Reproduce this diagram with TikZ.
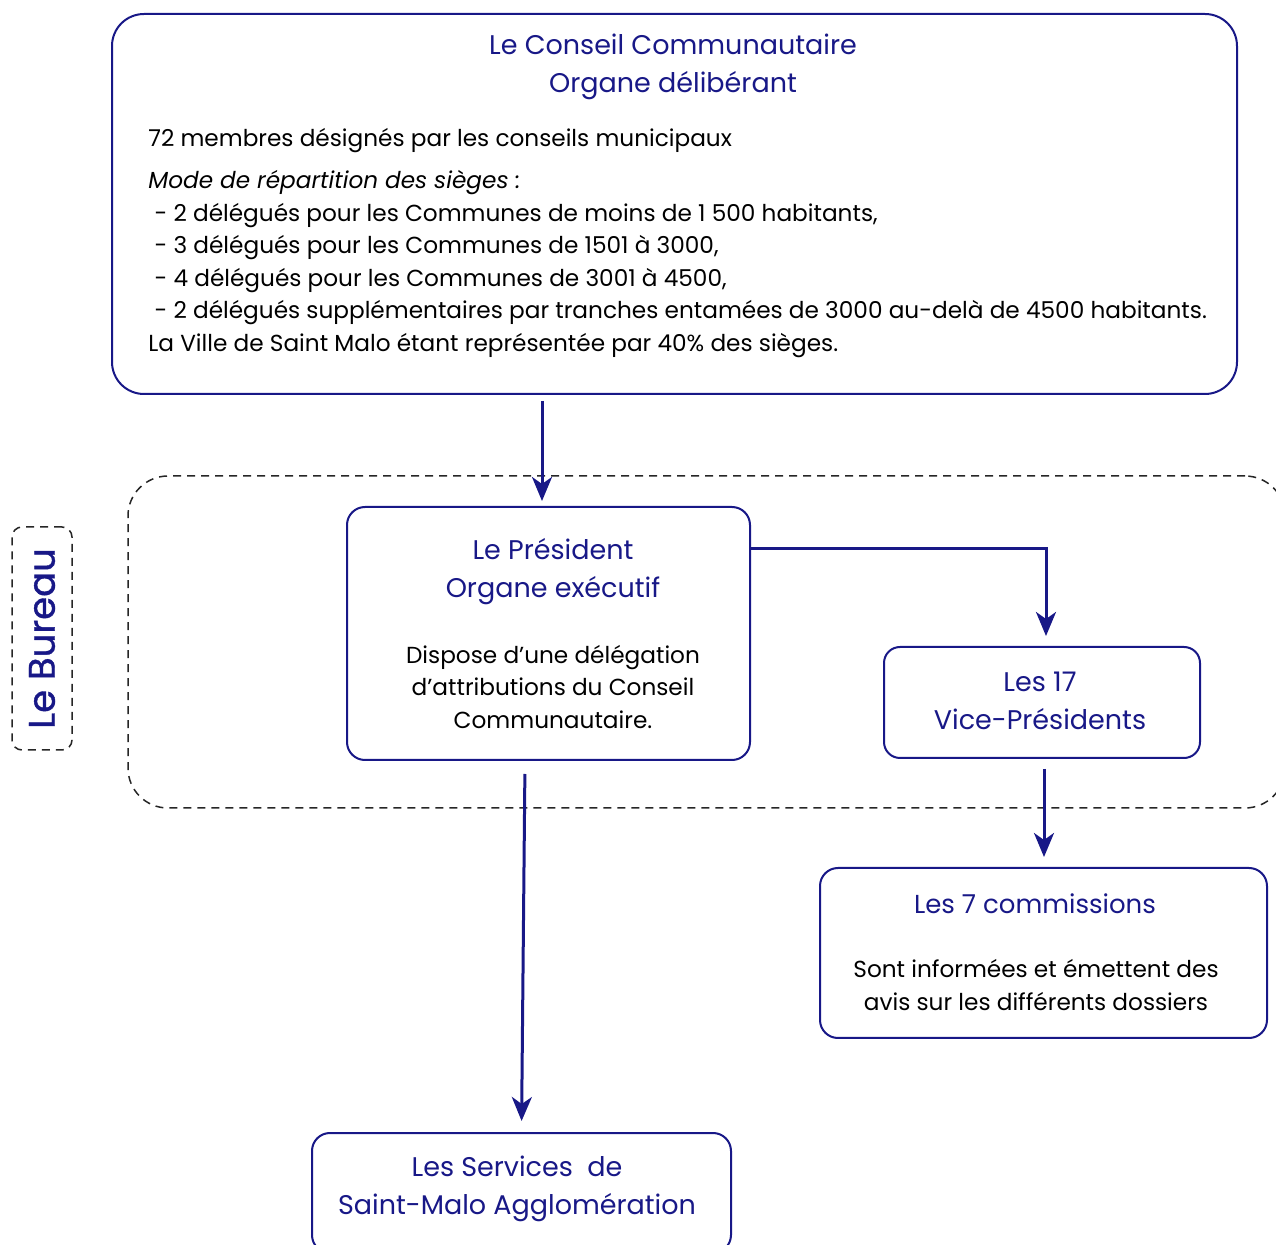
\documentclass[tikz,border=0pt]{standalone}
\usepackage{fontspec}
\setmainfont{Poppins}
\usetikzlibrary{arrows.meta}
\definecolor{navy}{RGB}{24,24,135}
\tikzset{
  box/.style={draw=navy, line width=1pt, rounded corners=9pt, inner sep=0pt},
  dashbox/.style={draw=black!85, dash pattern=on 4pt off 3pt, line width=0.75pt, inner sep=0pt},
  head/.style={text=navy, font=\fontsize{13.5}{19}\selectfont, align=center, inner sep=0pt},
  body/.style={text=black, font=\fontsize{11.6}{16.25}\selectfont, inner sep=0pt},
  link/.style={draw=navy, line width=1.5pt, -{Stealth[length=12pt,width=10pt,inset=3.5pt]}}
}
\begin{document}
\begin{tikzpicture}[x=0.5pt,y=-0.5pt]
    \useasboundingbox (0,0) rectangle (1276,1245);
    % le bureau
    \node [dashbox, rounded corners=20pt, minimum width=578.5pt, minimum height=166pt] (bureau) at (706.5,642) {};
    \node [dashbox, rounded corners=5pt, minimum width=30pt, minimum height=111.5pt] (bureaulabel) at (42,638.5) {};
    \node [head, font=\fontsize{18.5}{19}\selectfont\addfontfeature{FakeBold=1}, rotate=90] at (bureaulabel) {Le Bureau};
    % boxes
    \node [box, rounded corners=16pt, minimum width=562.5pt, minimum height=190pt] (conseil) at (674.5,204) {};
    \node [box, minimum width=201.5pt, minimum height=126.5pt] (pres) at (548.5,633.5) {};
    \node [box, rounded corners=8pt, minimum width=158pt, minimum height=55.5pt] (vp) at (1042,702.5) {};
    \node [box, minimum width=223.5pt, minimum height=85pt] (comm) at (1043.5,953) {};
    \node [box, minimum width=209.5pt, minimum height=60pt] (services) at (521.5,1193) {};
    % texts
    \node [head] at (673,67) {Le Conseil Communautaire\\Organe délibérant};
    \node [body, anchor=north west, align=left] at (148,128) {72 membres désignés par les conseils municipaux\\[4.75pt]
      \textit{Mode de répartition des sièges :}\\
      \ - 2 délégués pour les Communes de moins de 1 500 habitants,\\
      \ - 3 délégués pour les Communes de 1501 à 3000,\\
      \ - 4 délégués pour les Communes de 3001 à 4500,\\
      \ - 2 délégués supplémentaires par tranches entamées de 3000 au-delà de 4500 habitants.\\
      La Ville de Saint Malo étant représentée par 40\% des sièges.};
    \node [head] at (553,572) {Le Président\\Organe exécutif};
    \node [body, align=center] at (553,687) {Dispose d'une délégation\\d'attributions du Conseil\\Communautaire.};
    \node [head] at (1040,701) {Les 17\\Vice-Présidents};
    \node [head, font=\fontsize{13}{19}\selectfont] at (1035,904) {Les 7 commissions};
    \node [body, align=center] at (1036,985) {Sont informées et émettent des\\avis sur les différents dossiers};
    \node [head] at (517,1189) {Les Services~~de\\Saint-Malo Agglomération};
    % arrows
    \draw [link, shorten <=3pt, shorten >=2.5pt] ([xshift=-3.25pt]pres.north |- conseil.south) -- ([xshift=-3.25pt]pres.north);
    \draw [link, shorten >=5pt] ([yshift=42.25pt]pres.east) -| ([xshift=2pt]vp.north);
    \draw [link, shorten <=5pt, shorten >=5pt] ([xshift=1pt]vp.south) -- ([xshift=1pt]vp.south |- comm.north);
    \draw [link, shorten <=6.5pt, shorten >=5.5pt] ([xshift=-11.75pt]pres.south) -- (services.north);
\end{tikzpicture}
\end{document}
